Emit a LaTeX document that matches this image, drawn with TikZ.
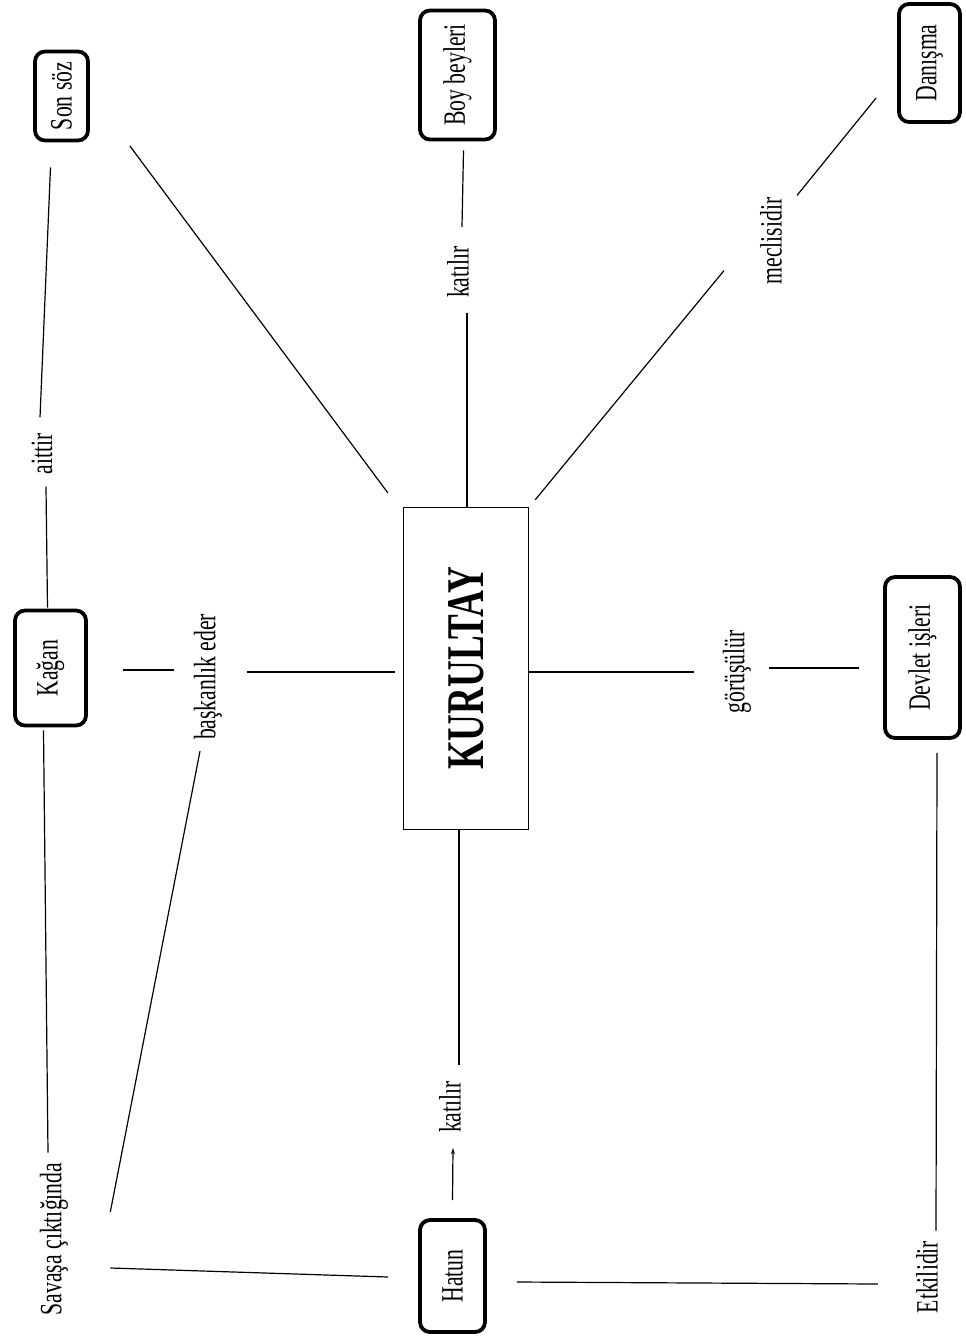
\documentclass[tikz,border=0pt]{standalone}
\usepackage{fontspec}
\setmainfont{Liberation Serif}[FakeStretch=0.7]
\usetikzlibrary{calc,arrows.meta}
\begin{document}
\begin{tikzpicture}[x=1pt,y=-1pt,
  every node/.style={font=\fontsize{31}{31}\selectfont,text=black},
  rbox/.style={draw,line width=3.8pt,rounded corners=10pt,inner sep=0pt},
  mainbox/.style={draw,line width=1.4pt,inner sep=0pt},
  lbl/.style={inner sep=0pt},
  conn/.style={line width=1.2pt}]
\useasboundingbox (0,0) rectangle (966,1338);
% boxes
\node[rbox,minimum width=53pt,minimum height=89pt] (sonsoz) at (61.5,96) {\rotatebox{90}{Son söz}};
\node[rbox,minimum width=75pt,minimum height=129pt] (boy) at (457.5,75) {\rotatebox{90}{Boy beyleri}};
\node[rbox,minimum width=61pt,minimum height=118pt] (danisma) at (929.5,63) {\rotatebox{90}{Danışma}};
\node[rbox,minimum width=71pt,minimum height=115pt] (kagan) at (50.5,668) {\rotatebox{90}{Kağan}};
\node[mainbox,minimum width=125pt,minimum height=322pt] (kurultay) at (466,668.5) {\rotatebox{90}{\fontsize{53}{53}\selectfont\bfseries KURULTAY}};
\node[rbox,minimum width=75pt,minimum height=161pt] (devlet) at (922.5,657.5) {\rotatebox{90}{Devlet işleri}};
\node[rbox,minimum width=65pt,minimum height=112pt] (hatun) at (452.5,1276) {\rotatebox{90}{Hatun}};
% labels
\node[lbl] (savasa) at (54,1239) {\rotatebox{90}{Savaşa çıktığında}};
\node[lbl] (etkilidir) at (927,1277) {\rotatebox{90}{Etkilidir}};
\node[lbl] (aittir) at (42,454) {\rotatebox{90}{aittir}};
\node[lbl] (baskanlik) at (208,677) {\rotatebox{90}{başkanlık eder}};
\node[lbl] (katilir1) at (458,272) {\rotatebox{90}{katılır}};
\node[lbl] (meclisidir) at (771,241) {\rotatebox{90}{meclisidir}};
\node[lbl] (gorusulur) at (737,672) {\rotatebox{90}{görüşülür}};
\node[lbl] (katilir2) at (450,1107) {\rotatebox{90}{katılır}};
% connectors
\draw[conn] ($(sonsoz.south)+(-11,25)$) -- ($(aittir.north)+(-2,-16)$);
\draw[conn] ($(aittir.south)+(4,12)$) -- ($(kagan.north)+(-3,-1)$);
\draw[conn] ($(kagan.south)+(-7,3)$) -- ($(savasa.north)+(-6,-10)$);
\draw[conn] ($(kagan.east)+(35,2)$) -- ($(baskanlik.west)+(-20,-7)$);
\draw[conn] ($(baskanlik.east)+(25,-5)$) -- ($(kurultay.west)+(-8,3.5)$);
\draw[conn] ($(baskanlik.south)+(-8,11)$) -- ($(savasa.east)+(42,-27)$);
\draw[conn] ($(savasa.east)+(42,29)$) -- ($(hatun.west)+(-30,1)$);
\draw[conn] ($(hatun.east)+(30,6)$) -- ($(etkilidir.west)+(-38,7)$);
\draw[conn] ($(devlet.south)+(14.5,13)$) -- ($(etkilidir.north)+(9,-10)$);
\draw[conn] ($(kurultay.east)+(0,3.5)$) -- ($(gorusulur.west)+(-29,0)$);
\draw[conn] ($(gorusulur.east)+(18,-4)$) -- ($(devlet.west)+(-24,10.5)$);
\draw[conn] ($(kurultay.south)+(-7,0)$) -- ($(katilir2.north)+(9,-16)$);
\draw[conn,-{Stealth[length=6pt,width=4pt]}] ($(hatun.north)+(0,-18)$) -- ($(katilir2.south)+(3,15)$);
\draw[conn] ($(kurultay.north)+(1,0)$) -- ($(katilir1.south)+(9,15)$);
\draw[conn] ($(katilir1.north)+(4,-19)$) -- ($(boy.south)+(6,9)$);
\draw[conn] ($(sonsoz.east)+(40,50)$) -- ($(kurultay.north west)+(-15,-14)$);
\draw[conn] ($(kurultay.north east)+(6,-7)$) -- ($(meclisidir.south)+(-47,-14)$);
\draw[conn] ($(meclisidir.north)+(26,-2)$) -- ($(danisma.west)+(-21,35)$);
\end{tikzpicture}
\end{document}
